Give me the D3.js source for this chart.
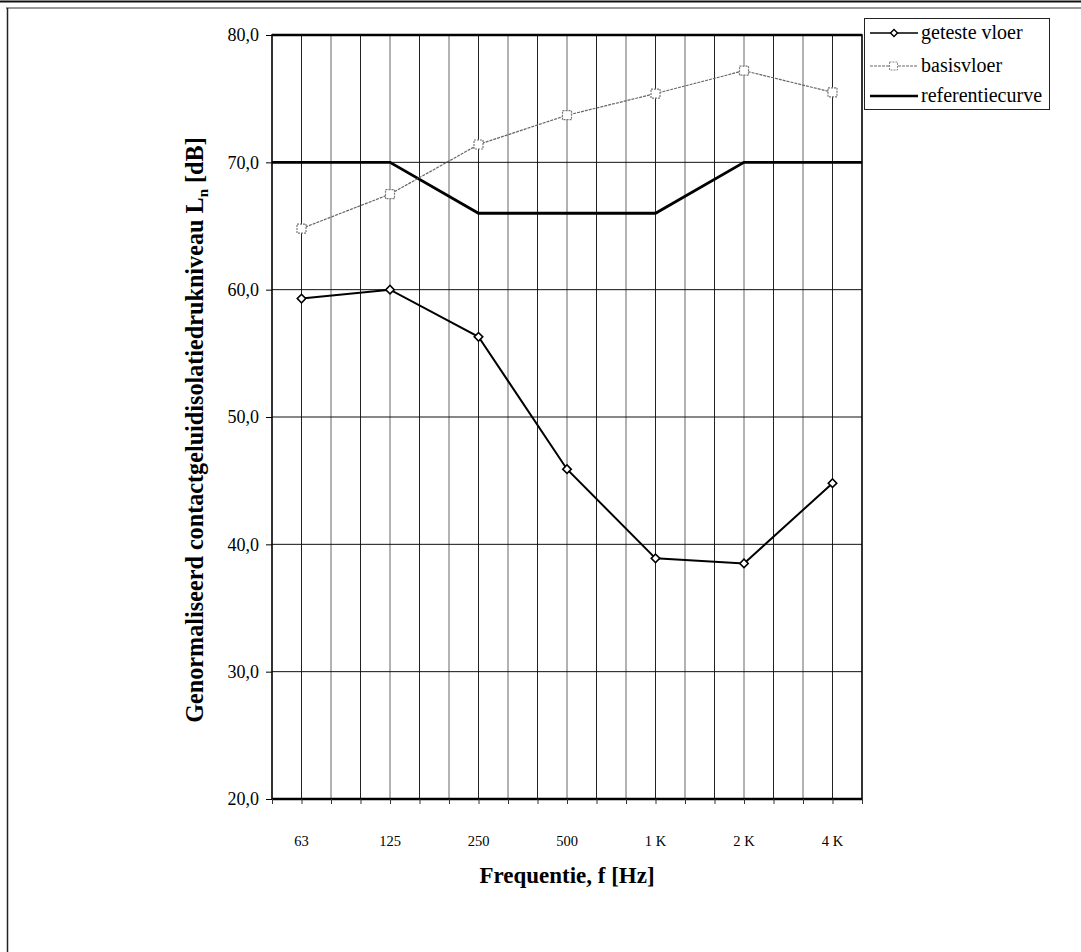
<!DOCTYPE html>
<html>
<head>
<meta charset="utf-8">
<script src="https://cdn.jsdelivr.net/npm/d3@7"></script>
<style>
  html, body { margin: 0; padding: 0; background: #fff; }
  svg { display: block; }
  text { font-family: "Liberation Serif", "Times New Roman", serif; fill: #000; }
</style>
</head>
<body>
<svg id="chart" width="1081" height="952"></svg>
<script>
// ---- data ----
const bands = ["50","63","80","100","125","160","200","250","315","400","500","630","800","1000","1250","1600","2000","2500","3150","4000","5000"];
const octaveBands = ["63","125","250","500","1000","2000","4000"];
const octaveLabels = ["63","125","250","500","1 K","2 K","4 K"];
const getesteVloer = [59.3, 60.0, 56.3, 45.9, 38.9, 38.5, 44.8];
const basisVloer = [64.8, 67.5, 71.4, 73.7, 75.4, 77.2, 75.5];
const refBands = ["50","125","250","1000","2000","5000"];
const refValues = [70, 70, 66, 66, 70, 70];
const yTicks = [20, 30, 40, 50, 60, 70, 80];
const seriesNames = ["geteste vloer", "basisvloer", "referentiecurve"];

// ---- layout ----
const svg = d3.select("#chart");
const L = 272, R = 862, T = 35, B = 799;
const x = d3.scalePoint().domain(bands).range([L, R]);
const y = d3.scaleLinear().domain([20, 80]).range([B, T]);
const fmt = v => d3.format(".1f")(v).replace(".", ",");

// outer frame
svg.append("line").attr("x1", 0).attr("x2", 1081).attr("y1", 1.5).attr("y2", 1.5)
  .attr("stroke", "#111").attr("stroke-width", 2);
svg.append("line").attr("x1", 6).attr("x2", 1081).attr("y1", 8).attr("y2", 8)
  .attr("stroke", "#333").attr("stroke-width", 1.2);
svg.append("line").attr("x1", 7.5).attr("x2", 7.5).attr("y1", 8).attr("y2", 952)
  .attr("stroke", "#222").attr("stroke-width", 1.5);

// vertical grid lines
svg.append("g").selectAll("line").data(bands.slice(1, -1)).join("line")
  .attr("x1", d => x(d)).attr("x2", d => x(d))
  .attr("y1", T).attr("y2", B)
  .attr("stroke", (d, i) => i % 2 ? "#666" : "#222").attr("stroke-width", 1);

// horizontal grid lines
svg.append("g").selectAll("line").data(yTicks.slice(1, -1)).join("line")
  .attr("x1", L).attr("x2", R)
  .attr("y1", d => y(d)).attr("y2", d => y(d))
  .attr("stroke", "#111").attr("stroke-width", 1);

// plot border
svg.append("rect").attr("x", L).attr("y", T).attr("width", R - L).attr("height", B - T)
  .attr("fill", "none").attr("stroke", "#000").attr("stroke-width", 1.6);
svg.append("line").attr("x1", L).attr("x2", R).attr("y1", T).attr("y2", T)
  .attr("stroke", "#000").attr("stroke-width", 2.4);
svg.append("line").attr("x1", L).attr("x2", R).attr("y1", B).attr("y2", B)
  .attr("stroke", "#000").attr("stroke-width", 2.4);

// y axis
const yAxis = d3.axisLeft(y).tickValues(yTicks).tickFormat(fmt).tickSize(6).tickPadding(7);
const gy = svg.append("g").attr("transform", `translate(${L},0)`).call(yAxis);
gy.select(".domain").remove();
gy.selectAll(".tick line").attr("stroke", "#000");
gy.selectAll(".tick text").attr("font-size", 18).attr("font-family", "Liberation Serif, serif").attr("fill", "#000");

// x axis: small ticks at every band, labels at octave bands
const xAxis = d3.axisBottom(x).tickValues(bands).tickSize(5).tickFormat("");
const gx = svg.append("g").attr("transform", `translate(0,${B})`).call(xAxis);
gx.select(".domain").remove();
gx.selectAll(".tick line").attr("stroke", "#333");
svg.append("g").selectAll("text").data(octaveBands).join("text")
  .attr("x", d => x(d)).attr("y", B + 47)
  .attr("text-anchor", "middle").attr("font-size", 14.5)
  .text((d, i) => octaveLabels[i]);

// axis titles
svg.append("text").attr("x", (L + R) / 2).attr("y", B + 84)
  .attr("text-anchor", "middle").attr("font-size", 23).attr("font-weight", "bold")
  .text("Frequentie, f [Hz]");
const yt = svg.append("text")
  .attr("transform", `translate(203,430) rotate(-90)`)
  .attr("text-anchor", "middle").attr("font-size", 24.2).attr("font-weight", "bold");
yt.append("tspan").text("Genormaliseerd contactgeluidisolatiedrukniveau L");
yt.append("tspan").attr("font-size", 15).attr("dy", 5).text("n");
yt.append("tspan").attr("dy", -5).text(" [dB]");

// lines
const line = d3.line().x(d => x(d[0])).y(d => y(d[1]));
const refData = refBands.map((b, i) => [b, refValues[i]]);
const basData = octaveBands.map((b, i) => [b, basisVloer[i]]);
const getData = octaveBands.map((b, i) => [b, getesteVloer[i]]);

svg.append("path").datum(refData).attr("d", line)
  .attr("fill", "none").attr("stroke", "#000").attr("stroke-width", 2.8);

svg.append("path").datum(basData).attr("d", line)
  .attr("fill", "none").attr("stroke", "#666").attr("stroke-width", 1.2)
  .attr("stroke-dasharray", "3,1");
svg.append("g").selectAll("rect").data(basData).join("rect")
  .attr("x", d => x(d[0]) - 4.5).attr("y", d => y(d[1]) - 4.5)
  .attr("width", 9).attr("height", 9)
  .attr("fill", "#fff").attr("stroke", "#777").attr("stroke-width", 1.2)
  .attr("stroke-dasharray", "2,1");

svg.append("path").datum(getData).attr("d", line)
  .attr("fill", "none").attr("stroke", "#000").attr("stroke-width", 2);
svg.append("g").selectAll("path").data(getData).join("path")
  .attr("transform", d => `translate(${x(d[0])},${y(d[1])}) rotate(45)`)
  .attr("d", "M-3,-3H3V3H-3Z")
  .attr("fill", "#fff").attr("stroke", "#000").attr("stroke-width", 1.6);

// legend
const lg = svg.append("g");
lg.append("rect").attr("x", 864.5).attr("y", 18.5).attr("width", 185).attr("height", 91)
  .attr("fill", "#fff").attr("stroke", "#222").attr("stroke-width", 1);
const ly = [33, 66, 96];
seriesNames.forEach((name, i) => {
  const yy = ly[i];
  const ln = lg.append("line").attr("x1", 870).attr("x2", 918).attr("y1", yy).attr("y2", yy);
  if (i === 0) {
    ln.attr("stroke", "#000").attr("stroke-width", 1.6);
    lg.append("path").attr("transform", `translate(894,${yy}) rotate(45)`)
      .attr("d", "M-2.5,-2.5H2.5V2.5H-2.5Z")
      .attr("fill", "#fff").attr("stroke", "#000").attr("stroke-width", 1.4);
  } else if (i === 1) {
    ln.attr("stroke", "#666").attr("stroke-width", 1.1).attr("stroke-dasharray", "3,1");
    lg.append("rect").attr("x", 889.5).attr("y", yy - 4).attr("width", 8).attr("height", 8)
      .attr("fill", "#fff").attr("stroke", "#888").attr("stroke-width", 1).attr("stroke-dasharray", "2,1");
  } else {
    ln.attr("stroke", "#000").attr("stroke-width", 2.6);
  }
  lg.append("text").attr("x", 921).attr("y", yy + 6).attr("font-size", 20).text(name);
});
</script>
</body>
</html>
